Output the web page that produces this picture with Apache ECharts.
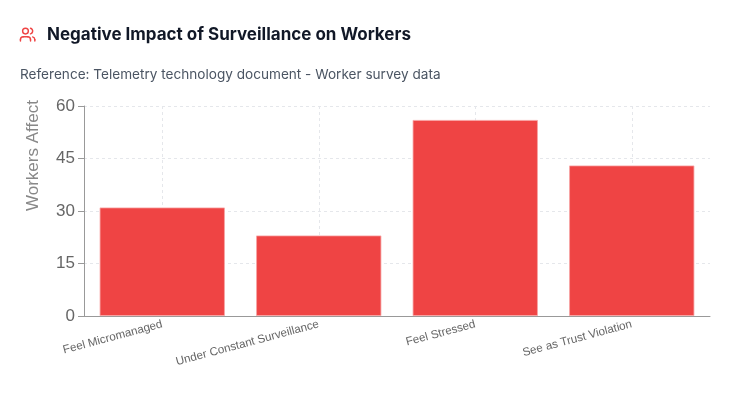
<!DOCTYPE html>
<html>
<head>
<meta charset="utf-8">
<script src="https://cdn.jsdelivr.net/npm/echarts@6/dist/echarts.min.js"></script>
<style>
  html, body { margin: 0; padding: 0; background: #fff; }
  #chart { width: 738px; height: 416px; }
</style>
</head>
<body>
<div id="chart"></div>
<script>
const categories = ['Feel Micromanaged', 'Under Constant Surveillance', 'Feel Stressed', 'See as Trust Violation'];
const workersAffected = [31, 23, 56, 43];
const yTicks = [0, 15, 30, 45, 60];

// "users" icon built from simple shapes on a 24x24 grid
const iconStroke = { fill: null, stroke: '#ef4444', lineWidth: 2, lineCap: 'round', lineJoin: 'round' };
const usersIcon = () => {
    const k = Math.atan2(3.87, 1);
    return [
        { type: 'circle', shape: { cx: 9, cy: 7, r: 4 }, style: iconStroke },
        { type: 'polyline', shape: { points: [[16, 21], [16, 19]] }, style: iconStroke },
        { type: 'arc', shape: { cx: 12, cy: 19, r: 4, startAngle: -Math.PI / 2, endAngle: 0, clockwise: true }, style: iconStroke },
        { type: 'polyline', shape: { points: [[12, 15], [6, 15]] }, style: iconStroke },
        { type: 'arc', shape: { cx: 6, cy: 19, r: 4, startAngle: -Math.PI, endAngle: -Math.PI / 2, clockwise: true }, style: iconStroke },
        { type: 'polyline', shape: { points: [[2, 19], [2, 21]] }, style: iconStroke },
        { type: 'polyline', shape: { points: [[22, 21], [22, 19]] }, style: iconStroke },
        { type: 'arc', shape: { cx: 18, cy: 19, r: 4, startAngle: -k, endAngle: 0, clockwise: true }, style: iconStroke },
        { type: 'arc', shape: { cx: 15, cy: 7, r: 4, startAngle: -k, endAngle: k, clockwise: true }, style: iconStroke }
    ];
};

const getOptionChart = () => {
    return {
        animation: false,
        graphic: [
            {
                type: 'group', x: 19, y: 26, scaleX: 0.72, scaleY: 0.72,
                children: usersIcon()
            },
            {
                type: 'text', x: 47, y: 35,
                style: { text: 'Negative Impact of Surveillance on Workers', font: 'bold 17px Inter, sans-serif', fill: '#111827', textVerticalAlign: 'middle' }
            },
            {
                type: 'text', x: 20, y: 75,
                style: { text: 'Reference: Telemetry technology document - Worker survey data', font: '13.6px Inter, sans-serif', fill: '#4b5563', textVerticalAlign: 'middle' }
            },
            {
                type: 'text', x: 33, y: 211, rotation: Math.PI / 2,
                style: { text: 'Workers Affect', font: '17px "Liberation Sans", sans-serif', fill: '#888', textAlign: 'left', textVerticalAlign: 'middle' }
            }
        ],
        grid: { left: 84, right: 28, top: 106, bottom: 100 },
        xAxis: {
            type: 'category',
            data: categories,
            axisLine: { lineStyle: { color: '#999' } },
            axisTick: { alignWithLabel: true, length: 6, lineStyle: { color: '#999' } },
            axisLabel: { rotate: 15, fontSize: 11.6, color: '#666', fontFamily: 'Liberation Sans', margin: 8 },
            splitLine: { show: true, alignWithLabel: true, lineStyle: { color: '#e5e7eb', type: [3, 3] } }
        },
        yAxis: {
            type: 'value',
            min: yTicks[0],
            max: yTicks[yTicks.length - 1],
            interval: 15,
            axisLine: { show: true, lineStyle: { color: '#999' } },
            axisTick: { show: true, length: 6, lineStyle: { color: '#999' } },
            axisLabel: { fontSize: 17, color: '#666', fontFamily: 'Liberation Sans', margin: 9 },
            splitLine: { lineStyle: { color: '#e5e7eb', type: [3, 3] } }
        },
        series: [
            {
                type: 'bar',
                data: workersAffected,
                barCategoryGap: '20%',
                itemStyle: { color: '#ef4444', borderColor: '#f8a5a5', borderWidth: 0.8 }
            }
        ]
    };
};

const initCharts = () => {
    const chart = echarts.init(document.querySelector('#chart'));
    chart.setOption(getOptionChart());
};

window.addEventListener('load', () => {
    initCharts();
});
</script>
</body>
</html>
